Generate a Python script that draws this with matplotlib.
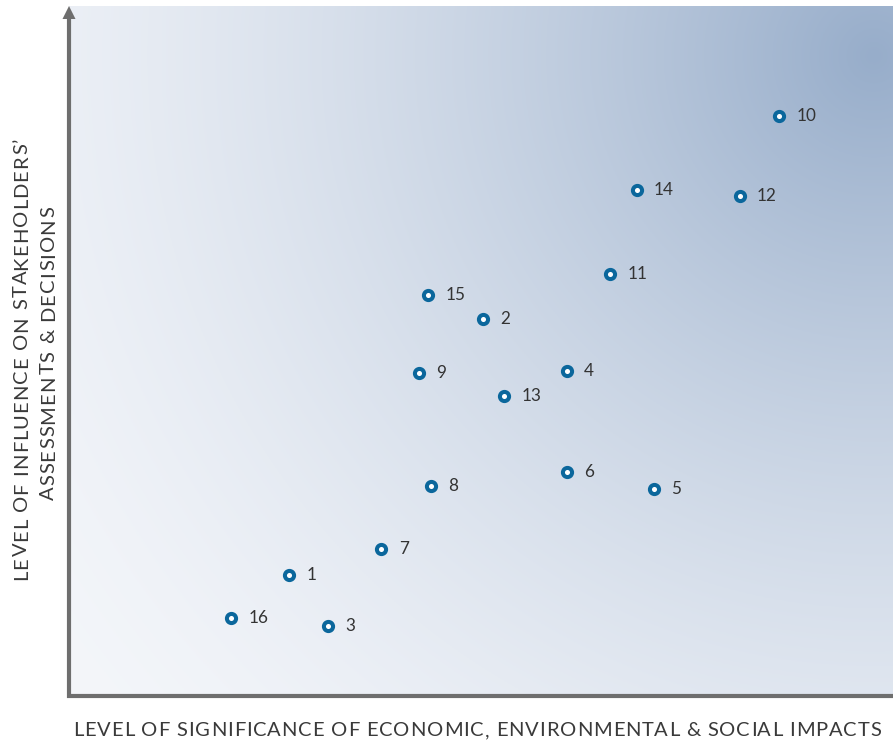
import numpy as np
import matplotlib
matplotlib.use("Agg")
import matplotlib.pyplot as plt
from matplotlib.colors import to_rgb
from matplotlib.patches import Polygon
from matplotlib.font_manager import FontProperties

# Data
labels = ["1", "2", "3", "4", "5", "6", "7", "8", "9", "10", "11", "12", "13", "14", "15", "16"]
significance = [26.7, 50.2, 31.4, 60.4, 71.0, 60.4, 37.9, 43.9, 42.5, 86.2, 65.7, 81.4, 52.8, 68.9, 43.6, 19.7]
influence = [17.6, 54.8, 10.2, 47.2, 30.1, 32.6, 21.4, 30.5, 46.9, 84.3, 61.3, 72.7, 43.6, 73.5, 58.3, 11.3]
x_label = "LEVEL OF SIGNIFICANCE OF ECONOMIC, ENVIRONMENTAL & SOCIAL IMPACTS"
y_label_1 = "LEVEL OF INFLUENCE ON STAKEHOLDERS’"
y_label_2 = "ASSESSMENTS & DECISIONS"

W, H = 893, 742
DPI = 100
fig = plt.figure(figsize=(W / DPI, H / DPI), dpi=DPI)
fig.patch.set_facecolor("white")

left, right, top, bottom = 69, 893, 8, 696
ax = fig.add_axes([left / W, (H - bottom) / H, (right - left) / W, (bottom - top) / H])
ax.set_xlim(0, 100)
ax.set_ylim(0, 100)
ax.axis("off")
pxx = 100 / (right - left)
pxy = 100 / (bottom - top)

# radial gradient background
bg_top = 6
nx, ny = 400, 345
xs = np.linspace(left, right, nx)
ys = np.linspace(bg_top, bottom, ny)
X, Y = np.meshgrid(xs, ys)
cx, cy, R = 875, 55, 1050
d = np.sqrt((X - cx) ** 2 + (Y - cy) ** 2) / R
w = np.clip(1 - d, 0, 1) ** 1.6
light = np.array(to_rgb("#F4F6FA"))
dark = np.array(to_rgb("#97ADCA"))
img = light[None, None, :] * (1 - w[..., None]) + dark[None, None, :] * w[..., None]
ax.imshow(img, extent=[0, 100, 0, 100 + (top - bg_top) * pxy], origin="upper",
          aspect="auto", zorder=0, clip_on=False)

# axes lines
axis_color = "#6e6e6e"
head_base = 100 - 11 * pxy
ax.plot([0, 0], [-2 * pxy, head_base + 0.2], color=axis_color, lw=3, clip_on=False, zorder=3,
        solid_capstyle="butt")
ax.plot([-2 * pxx, 100], [0, 0], color=axis_color, lw=3, clip_on=False, zorder=3,
        solid_capstyle="butt")
ax.add_patch(Polygon([[-6.5 * pxx, head_base], [6.5 * pxx, head_base], [0, 100 + 2 * pxy]],
                     closed=True, facecolor=axis_color, edgecolor="none", clip_on=False, zorder=4))

font = "Lato"
text_color = "#3a3a3a"

# points
ax.plot(significance, influence, linestyle="none", marker="o", markersize=6.6,
        markerfacecolor="white", markeredgecolor="#0b679c", markeredgewidth=2.9, zorder=5)
for xv, yv, lab in zip(significance, influence, labels):
    ax.annotate(lab, (xv, yv), xytext=(12.5, 0), textcoords="offset points",
                ha="left", va="center", fontsize=12.3, color="#333333", family=font, zorder=6)

renderer = fig.canvas.get_renderer()


def text_w(s, fp):
    return renderer.get_text_width_height_descent(s, fp, ismath=False)[0]


def tracked_text(s, start_px, end_px, base_px, size, vertical=False):
    fp = FontProperties(family=font, size=size)
    lefts = []
    for i, c in enumerate(s):
        lefts.append(text_w(s[:i + 1], fp) - text_w(c, fp) if c != " " else None)
    natural = text_w(s, fp)
    total = abs(end_px - start_px)
    track = (total - natural) / (len(s) - 1)
    for i, c in enumerate(s):
        if c == " ":
            continue
        pos = lefts[i] + i * track
        if not vertical:
            fig.text((start_px + pos) / W, 1 - base_px / H, c, ha="left", va="baseline",
                     fontsize=size, family=font, color=text_color)
        else:
            fig.text(base_px / W, 1 - (start_px - pos) / H, c, ha="left", va="baseline",
                     rotation=90, rotation_mode="anchor",
                     fontsize=size, family=font, color=text_color)


tracked_text(x_label, 73, 881, 736, 14.5)
tracked_text(y_label_1, 580, 138, 27, 14.5, vertical=True)
tracked_text(y_label_2, 500, 206, 54, 14.5, vertical=True)

fig.savefig("out.png", dpi=DPI)
